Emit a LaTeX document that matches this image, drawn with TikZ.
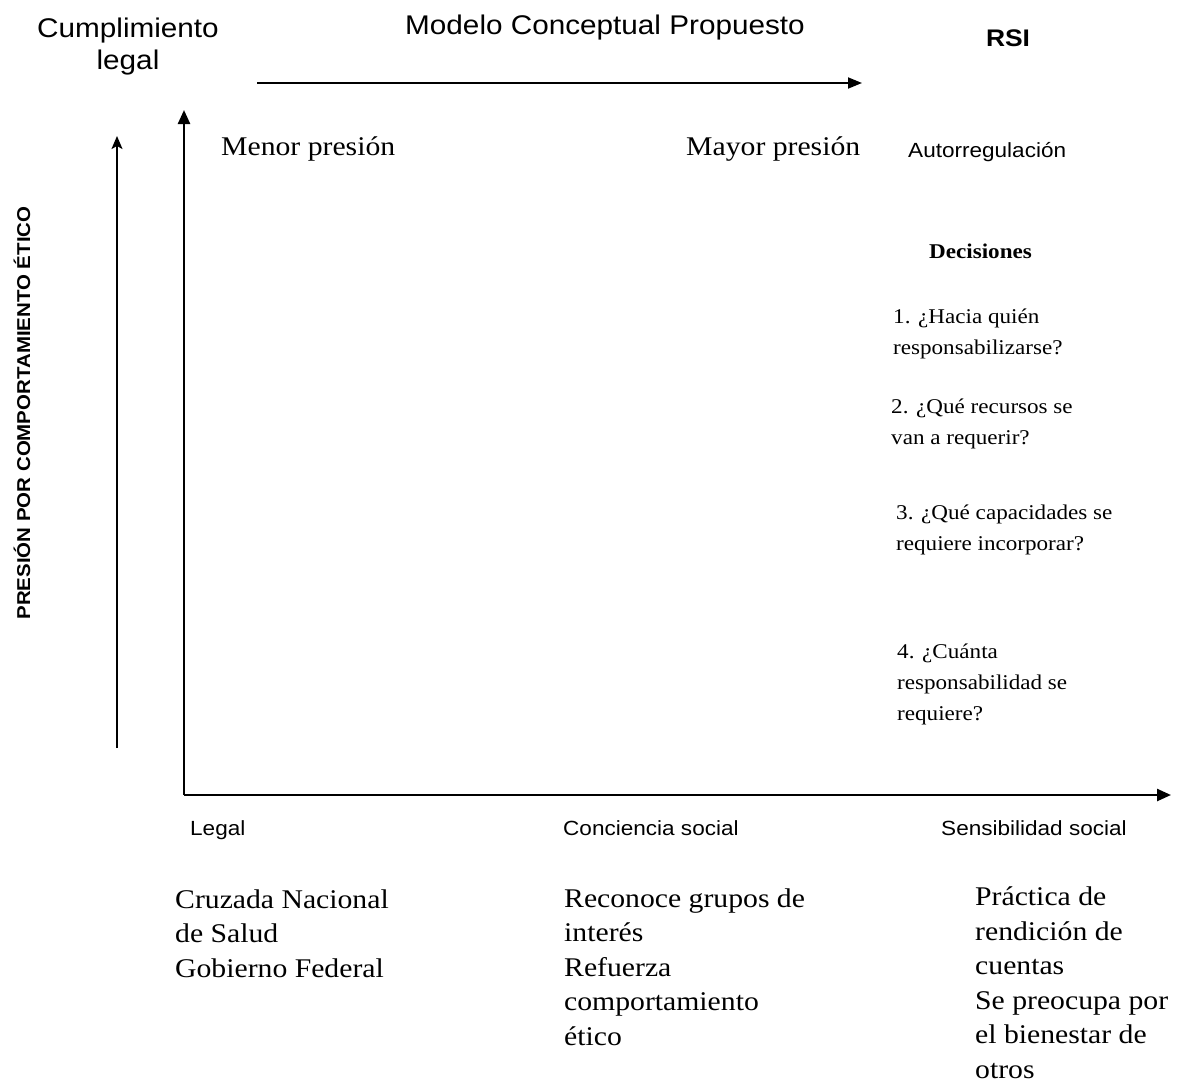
\documentclass[tikz,border=0pt]{standalone}
\usepackage{fontspec}
\setmainfont{Liberation Serif}[FakeStretch=1.1]
\setsansfont{Liberation Sans}[FakeStretch=1.1]
\usetikzlibrary{arrows.meta}
\begin{document}
\begin{tikzpicture}[x=1pt,y=-1pt,
  txt/.style={inner sep=0pt, anchor=base west, align=left},
  title/.style={inner sep=0pt, font=\sffamily\fontsize{27}{32}\selectfont},
  serifbig/.style={txt, font=\fontsize{27}{34.5}\selectfont},
  serifsmall/.style={txt, font=\fontsize{21}{31}\selectfont},
  sanssmall/.style={txt, font=\sffamily\fontsize{20.5}{24}\selectfont},
  axis/.style={line width=2.4pt, -{Triangle[length=14pt,width=12pt]}},
  thinarrow/.style={line width=1.8pt, -{Stealth[length=13pt,width=11pt,inset=3pt]}}
]
\useasboundingbox (0,0) rectangle (1177,1084);

% headings (base anchor of a multi-line node sits on its last line)
\node[title, align=center, anchor=base] (cumpl) at (128,69) {Cumplimiento\\legal};
\node[title, anchor=base] (modelo) at (605,34) {Modelo Conceptual Propuesto};
\node[inner sep=0pt, anchor=base, font=\sffamily\bfseries\fontsize{24}{28}\selectfont] (rsi) at (1008,46) {RSI};

% arrows and axes
\coordinate (topS) at (257,83);
\coordinate (topE) at (862,83);
\draw[line width=1.8pt, -{Triangle[length=14pt,width=11pt]}] (topS) -- (topE);

\coordinate (origin) at (184,795);
\coordinate (yEnd) at (184,110);
\coordinate (xEnd) at (1171,795);
\draw[axis] (origin) -- (yEnd);
\draw[axis] (origin) -- (xEnd);

\coordinate (lS) at (117,748);
\coordinate (lE) at (117,136);
\draw[thinarrow] (lS) -- (lE);

\node[inner sep=0pt, rotate=90, font=\sffamily\bfseries\fontsize{18.6}{22}\selectfont] (presion) at (22,413) {PRESIÓN POR COMPORTAMIENTO ÉTICO};

% upper labels
\node[serifbig] (menor) at (221,155) {Menor presión};
\node[serifbig] (mayor) at (686,155) {Mayor presión};
\node[sanssmall] (autorreg) at (908,157) {Autorregulación};

% decisions
\node[serifsmall, font=\bfseries\fontsize{21}{31}\selectfont] (decis) at (929,258) {Decisiones};
\node[serifsmall] (d1) at (893,354) {1. ¿Hacia quién\\responsabilizarse?};
\node[serifsmall] (d2) at (891,444) {2. ¿Qué recursos se\\van a requerir?};
\node[serifsmall] (d3) at (896,550) {3. ¿Qué capacidades se\\requiere incorporar?};
\node[serifsmall] (d4) at (897,720) {4. ¿Cuánta\\responsabilidad se\\requiere?};

% axis labels
\node[sanssmall] (legal) at (190,835) {Legal};
\node[sanssmall] (concien) at (563,835) {Conciencia social};
\node[sanssmall] (sensib) at (941,835) {Sensibilidad social};

% descriptions
\node[serifbig] (cruz) at (175,977) {Cruzada Nacional\\de Salud\\Gobierno Federal};
\node[serifbig] (recon) at (564,1045) {Reconoce grupos de\\interés\\Refuerza\\comportamiento\\ético};
\node[serifbig] (pract) at (975,1078) {Práctica de\\rendición de\\cuentas\\Se preocupa por\\el bienestar de\\otros};
\end{tikzpicture}
\end{document}
